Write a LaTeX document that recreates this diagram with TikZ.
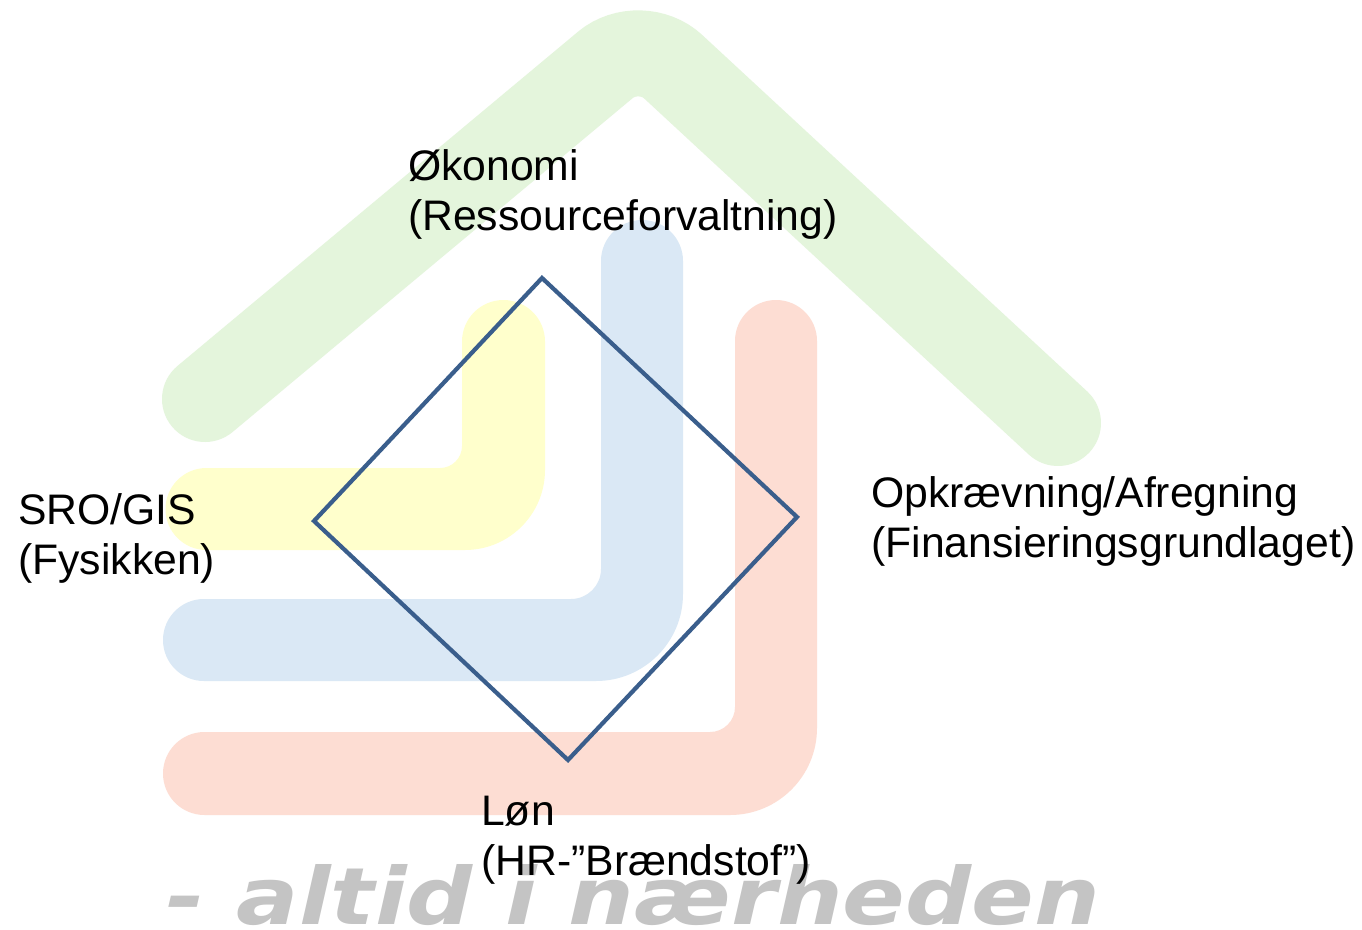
\documentclass[tikz,border=0pt]{standalone}
\usepackage{fontspec}
\usepackage{graphicx}
\setmainfont{Liberation Sans}
\newfontfamily\sloganfont{DejaVu Sans}
\definecolor{roofc}{RGB}{228,245,220}
\definecolor{yelc}{RGB}{255,255,204}
\definecolor{bluc}{RGB}{218,232,245}
\definecolor{redc}{RGB}{253,221,211}
\definecolor{diac}{RGB}{58,94,140}
\definecolor{slogc}{RGB}{196,196,196}
\begin{document}
\begin{tikzpicture}[x=1pt,y=-1pt,
  lbl/.style={inner sep=0pt, anchor=base west, font=\fontsize{42.7}{50}\selectfont, text=black},
  roofband/.style={draw=roofc, line width=86pt, line cap=round, rounded corners=45pt},
  diaedge/.style={draw=diac, line width=4.2pt, line join=miter}]
\useasboundingbox (0,0) rectangle (1362,929);
\fill[white] (0,0) rectangle (1362,929);
% roof
\coordinate (rL) at (205,399);
\coordinate (rA) at (640,36);
\coordinate (rR) at (1058,423);
\path[roofband] (rL) -- (rA) -- (rR);
% yellow L
\fill[yelc] (206.5,468) -- (440,468) arc[start angle=90,end angle=0,radius=22]
  -- (462,341.5) arc[start angle=180,end angle=360,radius=41.5]
  -- (545,470) arc[start angle=0,end angle=90,radius=80]
  -- (206.5,550) arc[start angle=90,end angle=270,radius=41] -- cycle;
% blue L
\fill[bluc] (204,599) -- (571,599) arc[start angle=90,end angle=0,radius=30]
  -- (601,261) arc[start angle=180,end angle=360,radius=41]
  -- (683,594) arc[start angle=0,end angle=90,radius=87]
  -- (204,681) arc[start angle=90,end angle=270,radius=41] -- cycle;
% red L
\fill[redc] (204.5,732) -- (710,732) arc[start angle=90,end angle=0,radius=25]
  -- (735,341) arc[start angle=180,end angle=360,radius=41]
  -- (817,728) arc[start angle=0,end angle=90,radius=87]
  -- (204.5,815) arc[start angle=90,end angle=270,radius=41.5] -- cycle;
% slogan
\node[inner sep=0pt, anchor=base west, text=slogc] (slogan) at (166,924)
  {\scalebox{1.17}[1]{\sloganfont\bfseries\itshape\fontsize{79}{90}\selectfont - altid i nærheden}};
% diamond
\coordinate (dT) at (542,278);
\coordinate (dR) at (797,517);
\coordinate (dB) at (568,760);
\coordinate (dL) at (314,521);
\path[diaedge] (dT) -- (dR) -- (dB) -- (dL) -- cycle;
% labels
\node[lbl] (okonomi) at (408,180) {\begin{tabular}[t]{@{}l@{}}Økonomi\\(Ressourceforvaltning)\end{tabular}};
\node[lbl] (sro) at (18,524) {\begin{tabular}[t]{@{}l@{}}SRO/GIS\\(Fysikken)\end{tabular}};
\node[lbl] (opk) at (871,507) {\begin{tabular}[t]{@{}l@{}}Opkrævning/Afregning\\(Finansieringsgrundlaget)\end{tabular}};
\node[lbl] (lon) at (481,825) {\begin{tabular}[t]{@{}l@{}}Løn\\(HR-”Brændstof”)\end{tabular}};
\end{tikzpicture}
\end{document}
